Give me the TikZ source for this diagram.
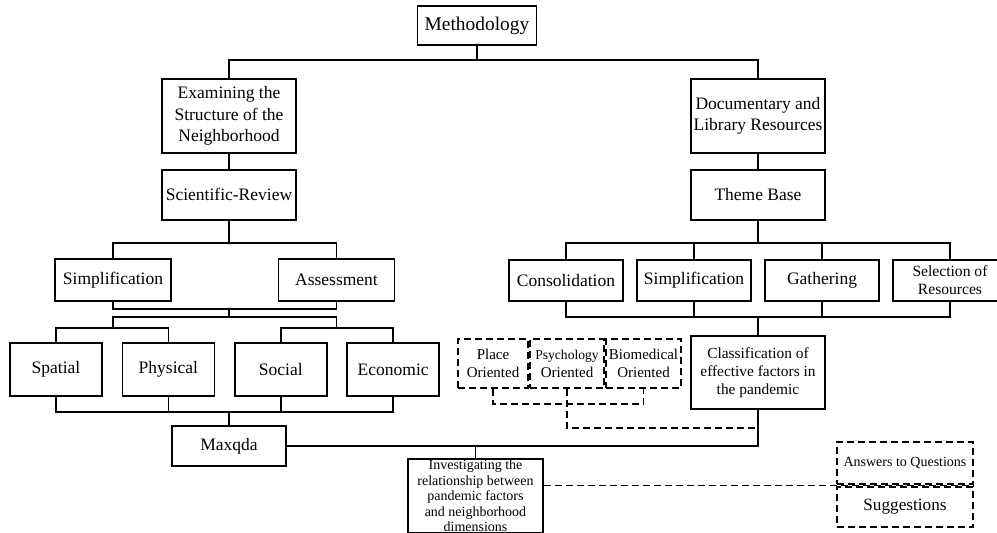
\documentclass[tikz,border=0pt]{standalone}
\usepackage{fontspec}
\setmainfont{Liberation Serif}
\usetikzlibrary{positioning}

\begin{document}
\begin{tikzpicture}[x=0.5pt, y=-0.5pt, line width=0.9pt,
    box/.style={draw, align=center, inner sep=1pt, font=\fontsize{8.75}{10.75}\selectfont},
    dbox/.style={draw, dash pattern=on 3.5pt off 2pt, align=center, inner sep=0pt, minimum height=24.5pt, font=\fontsize{7.5}{9}\selectfont},
    dline/.style={dash pattern=on 3.5pt off 2pt}]

    \useasboundingbox (0,0) rectangle (997,533);

    \coordinate (busA) at (0,60);
    \coordinate (busB) at (0,243);
    \coordinate (busC) at (0,309);
    \coordinate (busD) at (0,317);
    \coordinate (busE) at (0,328);
    \coordinate (busF) at (0,412);
    \coordinate (busG) at (0,404);
    \coordinate (busH) at (0,428);
    \coordinate (busQ) at (0,485.5);

    \node[box, minimum width=59.5pt, minimum height=19.5pt, font=\fontsize{9.7}{11}\selectfont] (meth) at (477,25.5) {Methodology};

    
    \node[box, minimum width=67pt, minimum height=37pt] (exam) at (229,116) {Examining the\\Structure of the\\Neighborhood};
    \node[box, minimum width=67pt, minimum height=25pt, below=7.5pt of exam] (sci) {Scientific-Review};
    \node[box, minimum width=58pt, minimum height=21pt] (simpL) at (113,280) {Simplification};
    \node[box, minimum width=58pt, minimum height=21pt] (assess) at (336.5,280) {Assessment};

    \node[box, minimum width=46pt, minimum height=26.5pt] (spatial) at (56,369.5) {Spatial};
    \node[box, minimum width=46pt, minimum height=26.5pt, right of=spatial, node distance=56.2pt] (physical) {Physical};
    \node[box, minimum width=46pt, minimum height=26.5pt, right of=physical, node distance=56.2pt] (social) {Social};
    \node[box, minimum width=46pt, minimum height=26.5pt, right of=social, node distance=56.2pt] (economic) {Economic};

    \node[box, minimum width=57pt, minimum height=20pt] (maxqda) at (229,446) {Maxqda};

    
    \node[box, minimum width=67pt, minimum height=37pt] (doc) at (758,116) {Documentary and\\Library Resources};
    \node[box, minimum width=67pt, minimum height=25pt, below=7.5pt of doc] (theme) {Theme Base};

    \node[box, minimum width=57pt, minimum height=20.5pt] (consol) at (566,280.5) {Consolidation};
    \node[box, minimum width=57pt, minimum height=20.5pt, right of=consol, node distance=64pt] (simpR) {Simplification};
    \node[box, minimum width=57pt, minimum height=20.5pt, right of=simpR, node distance=64pt] (gather) {Gathering};
    \node[box, minimum width=57pt, minimum height=20.5pt, right of=gather, node distance=64pt, font=\fontsize{7.8}{9}\selectfont] (select) {Selection of\\Resources};

    \node[box, minimum width=67pt, minimum height=36.5pt, font=\fontsize{7.7}{9}\selectfont] (classif) at (758,372.5) {Classification of\\effective factors in\\the pandemic};

    \node[dbox, minimum width=35pt] (place) at (493,363.5) {Place\\Oriented};
    \node[dbox, minimum width=37pt] (psych) at (567,363.5) {{\fontsize{6.8}{9}\selectfont Psychology}\\Oriented};
    \node[dbox, minimum width=37.5pt] (biomed) at (643.5,363.5) {Biomedical\\Oriented};

    \node[box, inner sep=0pt, minimum width=67.5pt, minimum height=37pt, font=\fontsize{7}{7.75}\selectfont] (invest) at (475.5,496) {Investigating the\\relationship between\\pandemic factors\\and neighborhood\\dimensions};

    \node[dbox, minimum width=68pt, minimum height=21pt, font=\fontsize{7}{9}\selectfont] (answers) at (905,463) {Answers to Questions};
    \node[dbox, minimum width=68pt, minimum height=20pt, font=\fontsize{8.6}{10}\selectfont] (sugg) at (905,507) {Suggestions};

    
    \draw (meth.south) -- (meth.south |- busA);
    \draw (exam.north) |- (doc.north |- busA) -- (doc.north);
    \draw (exam) -- (sci);
    \draw (doc) -- (theme);

    \draw (sci.south) -- (sci.south |- busB);
    \draw (simpL.north) |- (assess.north |- busB) -- (assess.north);
    \draw (simpL.south) |- (assess.south |- busC) -- (assess.south);
    \draw (sci.south |- busC) -- (sci.south |- busD);
    \draw (simpL.south |- busE) |- (assess.south |- busD) -- (assess.south |- busE);
    \draw (spatial.north) |- (physical.north |- busE) -- (physical.north);
    \draw (social.north) |- (economic.north |- busE) -- (economic.north);

    \draw (spatial.south) |- (economic.south |- busF) -- (economic.south);
    \draw (physical.south) -- (physical.south |- busF);
    \draw (social.south) -- (social.south |- busF);
    \draw (maxqda.north) -- (maxqda.north |- busF);
    \draw (maxqda.east) -| (classif.south);
    \draw (invest.north) -- (invest.north |- maxqda.east);

    \draw (theme.south) -- (theme.south |- busB);
    \draw (consol.north) |- (select.north |- busB) -- (select.north);
    \draw (simpR.north) -- (simpR.north |- busB);
    \draw (gather.north) -- (gather.north |- busB);
    \draw (consol.south) |- (select.south |- busD) -- (select.south);
    \draw (simpR.south) -- (simpR.south |- busD);
    \draw (gather.south) -- (gather.south |- busD);
    \draw (classif.north) -- (classif.north |- busD);

    \draw[dline] (place.south) |- (biomed.south |- busG) -- (biomed.south);
    \draw[dline] (psych.south) |- (classif.south |- busH);
    \draw[dline] (invest.east |- busQ) -- (sugg.north east |- busQ);
\end{tikzpicture}
\end{document}
